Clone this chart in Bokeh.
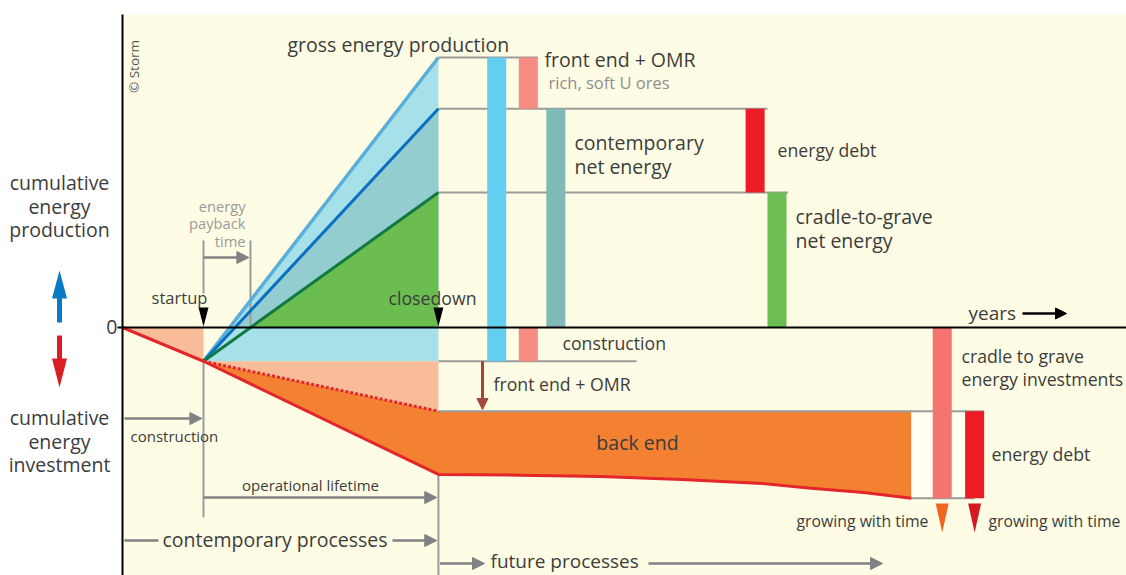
import numpy as np
from bokeh.plotting import figure
from bokeh.models import Range1d, Label, Arrow, NormalHead
from bokeh.embed import file_html
from bokeh.resources import INLINE

# ------------------------------------------------------------------
# DATA  (time in years, cumulative energy in arbitrary energy units)
# ------------------------------------------------------------------
T_STARTUP = 10.0          # end of construction
T_CLOSE = 39.0            # closedown (end of operational lifetime)

LEVEL_NAMES = ["gross energy production", "contemporary net energy", "cradle-to-grave net energy"]
LEVELS = [100.0, 81.0, 50.0]          # cumulative production at closedown
CONSTRUCTION = -12.5                  # energy invested in construction
FRONT_END_OMR = -31.0                 # construction + front end + OMR

BACK_END_T = [39.0, 49.0, 59.0, 69.0, 79.0, 85.0, 91.5, 97.4]
BACK_END_E = [-54.4, -54.7, -55.2, -56.3, -57.8, -59.5, -61.1, -63.2]

BAR_NAMES = ["gross", "front end + OMR", "construction", "contemporary net",
             "energy debt", "cradle-to-grave net", "cradle to grave investments", "energy debt (future)"]
BAR_T = [46.2, 50.1, 50.1, 53.5, 78.1, 80.8, 101.2, 105.2]
BAR_BOTTOM = [CONSTRUCTION, LEVELS[1], CONSTRUCTION, 0.0, LEVELS[2], 0.0, BACK_END_E[-1], BACK_END_E[-1]]
BAR_TOP = [LEVELS[0], LEVELS[0], 0.0, LEVELS[1], LEVELS[1], LEVELS[2], 0.0, FRONT_END_OMR]
BAR_COLORS = ["#63CFF0", "#F58B83", "#F58B83", "#80BAB6", "#ED1C24", "#6CBE52", "#F47570", "#ED1C24"]
BAR_WIDTH = 2.35

# ------------------------------------------------------------------
# layout helpers (pixel <-> data scale of this drawing)
# ------------------------------------------------------------------
PX_T = 8.1      # px per year
PX_E = 2.7      # px per energy unit
X0, Y0 = 122.0, 327.0   # page position of origin
W, H = 1126, 575


def T(px):
    return (px - X0) / PX_T


def E(py):
    return (Y0 - py) / PX_E


FONT = "Open Sans"
TXT = "#3C3C3C"
GRAY = "#9B9B9B"
AGRAY = "#808185"
CREAM = "#FEFCE4"

p = figure(width=W, height=H, output_backend="svg", toolbar_location=None,
           x_range=Range1d(T(0), T(W)), y_range=Range1d(E(H), E(0)),
           x_axis_type=None, y_axis_type=None, min_border=0, title=None)
p.grid.visible = False
p.outline_line_color = None
p.background_fill_color = "white"
p.border_fill_color = "white"

# cream background of the chart area
p.quad(left=0, right=T(1200), top=E(14), bottom=E(700), fill_color=CREAM, line_color=None)

gross, contemp, c2g = LEVELS


def zero_cross(level):
    return T_STARTUP + (0 - CONSTRUCTION) / (level - CONSTRUCTION) * (T_CLOSE - T_STARTUP)


# ---- production fills
p.patch([T_STARTUP, T_CLOSE, T_CLOSE], [CONSTRUCTION, gross, CONSTRUCTION],
        fill_color="#A6E1EA", line_color=None)
p.patch([zero_cross(contemp), T_CLOSE, T_CLOSE], [0, contemp, 0], fill_color="#93CDCF", line_color=None)
p.patch([zero_cross(c2g), T_CLOSE, T_CLOSE], [0, c2g, 0], fill_color="#6BBD50", line_color=None)

# ---- investment fills
p.patch([0, T_STARTUP, T_STARTUP], [0, 0, CONSTRUCTION], fill_color="#F9BC98", line_color=None)
p.patch([T_STARTUP, T_CLOSE, T_CLOSE], [CONSTRUCTION, CONSTRUCTION, FRONT_END_OMR],
        fill_color="#F9BC98", line_color=None)
ox = [T_STARTUP, T_CLOSE, BACK_END_T[-1]] + BACK_END_T[::-1]
oy = [CONSTRUCTION, FRONT_END_OMR, FRONT_END_OMR] + BACK_END_E[::-1]
p.patch(ox, oy, fill_color="#F38131", line_color=None)

# light box between back end and the debt bars
p.quad(left=BACK_END_T[-1], right=BAR_T[7], top=FRONT_END_OMR, bottom=BACK_END_E[-1],
       fill_color="#FFFFF2", line_color=None)

# ---- gray reference lines
ref_y = [gross, contemp, c2g, CONSTRUCTION, FRONT_END_OMR, BACK_END_E[-1]]
ref_x0 = [T_CLOSE, T_CLOSE, T_CLOSE, T_CLOSE, T_CLOSE, BACK_END_T[-1]]
ref_x1 = [BAR_T[1] + BAR_WIDTH / 2, BAR_T[5] - BAR_WIDTH / 2, BAR_T[5] + BAR_WIDTH / 2 + 0.2,
          T(636), BAR_T[7] + BAR_WIDTH / 2, BAR_T[7]]
p.segment(x0=ref_x0, y0=ref_y, x1=ref_x1, y1=ref_y, line_color=GRAY, line_width=2)

# vertical gray lines
p.segment(x0=[T_STARTUP, T_CLOSE], y0=[CONSTRUCTION, BACK_END_E[0]],
          x1=[T_STARTUP, T_CLOSE], y1=[E(517), E(700)], line_color=GRAY, line_width=2)
t_pay = zero_cross(c2g)
p.segment(x0=[T_STARTUP, t_pay], y0=[E(293), 0], x1=[T_STARTUP, t_pay], y1=[E(240), E(240)],
          line_color=GRAY, line_width=2)

# ---- bars
p.vbar(x=BAR_T, width=BAR_WIDTH, bottom=BAR_BOTTOM, top=BAR_TOP, fill_color=BAR_COLORS,
       line_color=None)

# ---- production lines
p.line([T_STARTUP, T_CLOSE], [CONSTRUCTION, gross], line_color="#5AAED8", line_width=3.5)
p.line([T_STARTUP, T_CLOSE], [CONSTRUCTION, contemp], line_color="#0A6FBF", line_width=3)
p.line([T_STARTUP, T_CLOSE], [CONSTRUCTION, c2g], line_color="#107A42", line_width=3)

# ---- investment lines
p.line([0, T_STARTUP] + BACK_END_T, [0, CONSTRUCTION] + BACK_END_E, line_color="#E3262B", line_width=3)
p.line([T_STARTUP, T_CLOSE], [CONSTRUCTION, FRONT_END_OMR], line_color="#E3262B", line_width=3,
       line_dash="3 2")

# ---- axes
p.segment(x0=[0, 0, T(117)], y0=[E(14), 0, 0], x1=[0, T(1200), 0], y1=[E(700), 0, 0],
          line_color="black", line_width=2)


# ---- arrows
def arrow(x0, y0, x1, y1, color=AGRAY, size=12, lw=2.5):
    p.add_layout(Arrow(x_start=x0, y_start=y0, x_end=x1, y_end=y1, line_color=color, line_width=lw,
                       end=NormalHead(size=size, fill_color=color, line_color=color, line_width=1)))


arrow(T_STARTUP, E(257), t_pay - 0.2, E(257))
arrow(T(124), E(418), T_STARTUP - 0.2, E(418))
arrow(T_STARTUP, E(497), T_CLOSE - 0.2, E(497))
p.segment(x0=[T(124)], y0=[E(540)], x1=[T(158)], y1=[E(540)], line_color=AGRAY, line_width=2.5)
arrow(T(392), E(540), T_CLOSE - 0.2, E(540))
arrow(T_CLOSE + 0.2, E(563), T(484), E(563))
arrow(T(648), E(563), T(882), E(563))
arrow(T(1022), E(313), T(1066), E(313), color="black", size=11, lw=2.5)
arrow(T(482), CONSTRUCTION, T(482), FRONT_END_OMR + 0.6, color="#A2473A", size=11, lw=3)


def tri(xc, ytop, ybot, wpx, color):
    hw = wpx / 2 / PX_T
    p.patch([xc - hw, xc + hw, xc], [ytop, ytop, ybot], fill_color=color, line_color=None)


# startup / closedown markers
tri(T_STARTUP, E(307), E(326), 10, "black")
tri(T_CLOSE, E(307), E(326), 10, "black")
# growing-with-time markers
tri(BAR_T[6], E(503), E(532), 13, "#F26522")
tri(BAR_T[7], E(503), E(532), 13, "#D41920")

# left up / down arrows
ax = T(59)
p.segment(x0=[ax, ax], y0=[E(322), E(335)], x1=[ax, ax], y1=[E(297), E(359)],
          line_color=["#0A7AC4", "#D91F26"], line_width=5)
tri(ax, E(298), E(270), 15, "#0A7AC4")
tri(ax, E(358), E(387), 15, "#D91F26")


# ---- texts
def lbl(text, x, y, size, color=TXT, align="left", angle=0.0):
    p.add_layout(Label(x=T(x), y=E(y), text=text, text_font=FONT, text_font_size=f"{size}px",
                       text_color=color, text_align=align, text_baseline="middle", angle=angle))


BIG, MID, SMALL = 19.5, 17.7, 15.8
lbl("© Storm", 133, 66, 13.5, "#555555", "center", np.pi / 2)
lbl("gross energy production", 287, 44, BIG)
lbl("front end + OMR", 544, 59, BIG)
lbl("rich, soft U ores", 548, 82, 16.5, "#8E8E8E")
lbl("contemporary", 574, 142, BIG)
lbl("net energy", 574, 166, BIG)
lbl("energy debt", 777, 149, MID)
lbl("cradle-to-grave", 795, 216, BIG)
lbl("net energy", 795, 240, BIG)
for i, s in enumerate(["cumulative", "energy", "production"]):
    lbl(s, 59, 182 + 23.5 * i, BIG, align="center")
for i, s in enumerate(["cumulative", "energy", "investment"]):
    lbl(s, 59, 417 + 23.5 * i, BIG, align="center")
lbl("0", 117, 326, BIG, align="right")
for i, s in enumerate(["energy", "payback", "time"]):
    lbl(s, 245, 205 + 17.5 * i, 14.7, "#9A9A9A", "right")
lbl("startup", 179, 297, 16.5, align="center")
lbl("closedown", 432, 297, MID, align="center")
lbl("years", 968, 312, 19)
lbl("construction", 562, 342, MID)
lbl("front end + OMR", 493, 383, MID)
lbl("back end", 637, 442, BIG, align="center")
lbl("cradle to grave", 961, 355, MID)
lbl("energy investments", 961, 378, MID)
lbl("energy debt", 991, 453, MID)
lbl("growing with time", 796, 520, SMALL)
lbl("growing with time", 988, 520, SMALL)
lbl("construction", 130, 435, 15)
lbl("operational lifetime", 310, 484, 15, align="center")
lbl("contemporary processes", 162, 539, BIG)
lbl("future processes", 490, 560, 19)

open("out.html", "w").write(file_html(p, INLINE))
